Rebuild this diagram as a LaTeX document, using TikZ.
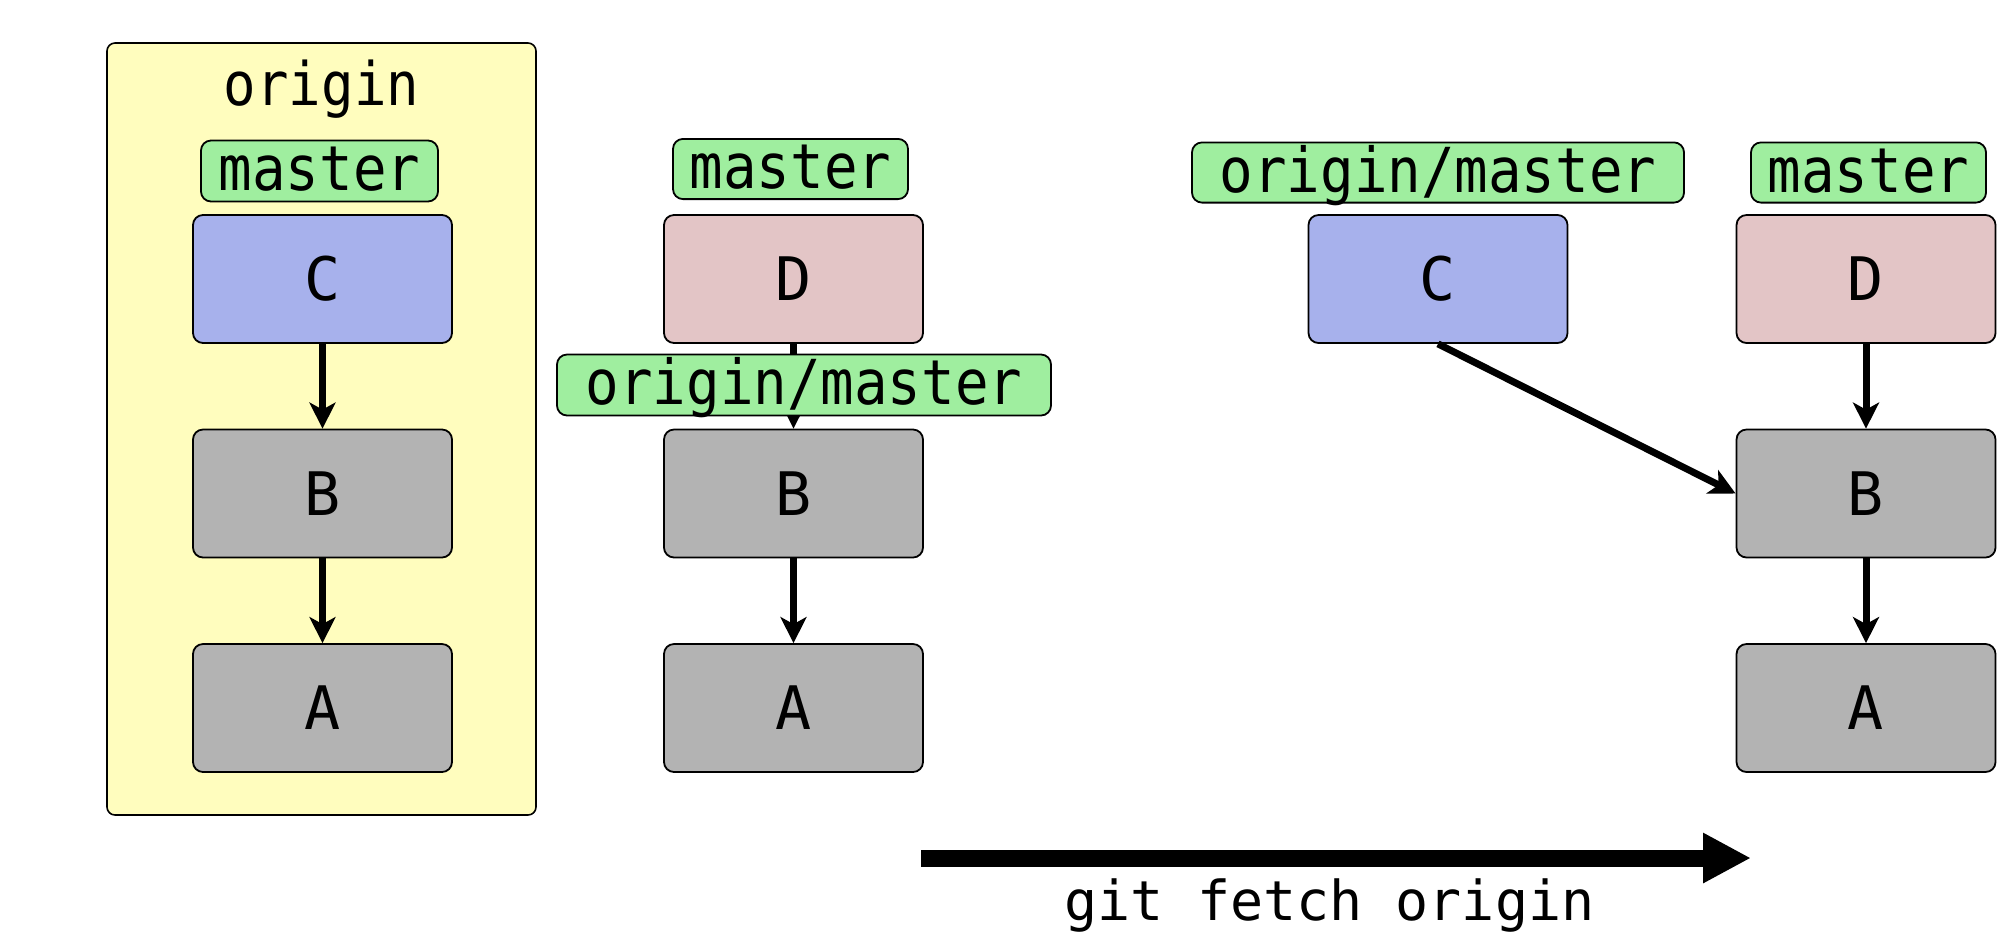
\documentclass[tikz,border=0pt]{standalone}
\usepackage{fontspec}
\usetikzlibrary{arrows.meta}
\newfontfamily\monoN{DejaVu Sans Mono}
\newfontfamily\monoC[FakeStretch=0.9]{DejaVu Sans Mono}
\definecolor{remotebg}{RGB}{255,253,190}
\definecolor{labelbg}{RGB}{159,238,159}
\definecolor{commitC}{RGB}{167,177,236}
\definecolor{commitD}{RGB}{227,197,198}
\definecolor{commitG}{RGB}{179,179,179}
\tikzset{
  commit/.style={draw=black, line width=0.9pt, rounded corners=5pt,
    minimum width=129.5pt, minimum height=64pt, inner sep=0pt,
    font=\monoN\fontsize{30pt}{30pt}\selectfont, text height=21.9pt, text depth=0pt},
  reflabel/.style={draw=black, fill=labelbg, line width=0.9pt, rounded corners=5pt,
    minimum height=30.5pt, inner sep=0pt,
    font=\monoC\fontsize{31pt}{31pt}\selectfont, text height=24.8pt, text depth=5.3pt},
  parent/.style={line width=3.5pt, -{Stealth[length=13pt,width=13pt,inset=3.5pt]}},
  bigarrow/.style={line width=8.5pt, -{Triangle[length=24pt,width=23.5pt]}}
}
\begin{document}
\begin{tikzpicture}[x=0.5pt,y=-0.5pt]
\useasboundingbox (0,0) rectangle (2000,934);
% remote repository
\node[draw=black, fill=remotebg, line width=0.8pt, rounded corners=4pt,
  minimum width=214.5pt, minimum height=386pt, inner sep=0pt] (remote) at (321.5,429) {};
\node[anchor=base, inner sep=0pt, font=\monoC\fontsize{30pt}{30pt}\selectfont] (remotetitle) at (321.5,105) {origin};
% column 1
\node[commit, fill=commitC] (c1) at (322.5,279) {C};
\node[commit, fill=commitG] (b1) at (322.5,493.5) {B};
\node[commit, fill=commitG] (a1) at (322.5,708) {A};
\node[reflabel, minimum width=118.5pt] (m1) at (319.5,171) {master};
\draw[parent] (c1) -- (b1);
\draw[parent] (b1) -- (a1);
% column 2
\node[commit, fill=commitD] (d2) at (793.5,279) {D};
\node[commit, fill=commitG] (b2) at (793.5,493.5) {B};
\node[commit, fill=commitG] (a2) at (793.5,708) {A};
\draw[parent] (d2) -- (b2);
\draw[parent] (b2) -- (a2);
\node[reflabel, minimum width=117.5pt, minimum height=30pt] (m2) at (790.5,169) {master};
\node[reflabel, minimum width=247pt] (om2) at (804,385) {origin/master};
% column 3
\node[commit, fill=commitC] (c3) at (1438,279) {C};
\node[commit, fill=commitD] (d3) at (1866,279) {D};
\node[commit, fill=commitG] (b3) at (1866,493.5) {B};
\node[commit, fill=commitG] (a3) at (1866,708) {A};
\node[reflabel, minimum width=246pt, minimum height=29.5pt] (om3) at (1438,172.5) {origin/master};
\node[reflabel, minimum width=117.5pt, minimum height=29.5pt] (m3) at (1868.5,172.5) {master};
\draw[parent] (d3) -- (b3);
\draw[parent] (b3) -- (a3);
\draw[parent] (c3.south) -- (b3.west);
% fetch arrow
\coordinate (fs) at (921,858);
\coordinate (fe) at (1751,858);
\draw[bigarrow] (fs) -- (fe);
\node[anchor=base, inner sep=0pt, font=\monoN\fontsize{27.5pt}{27.5pt}\selectfont] (cmd) at (1329.5,920) {git fetch origin};
\end{tikzpicture}
\end{document}
